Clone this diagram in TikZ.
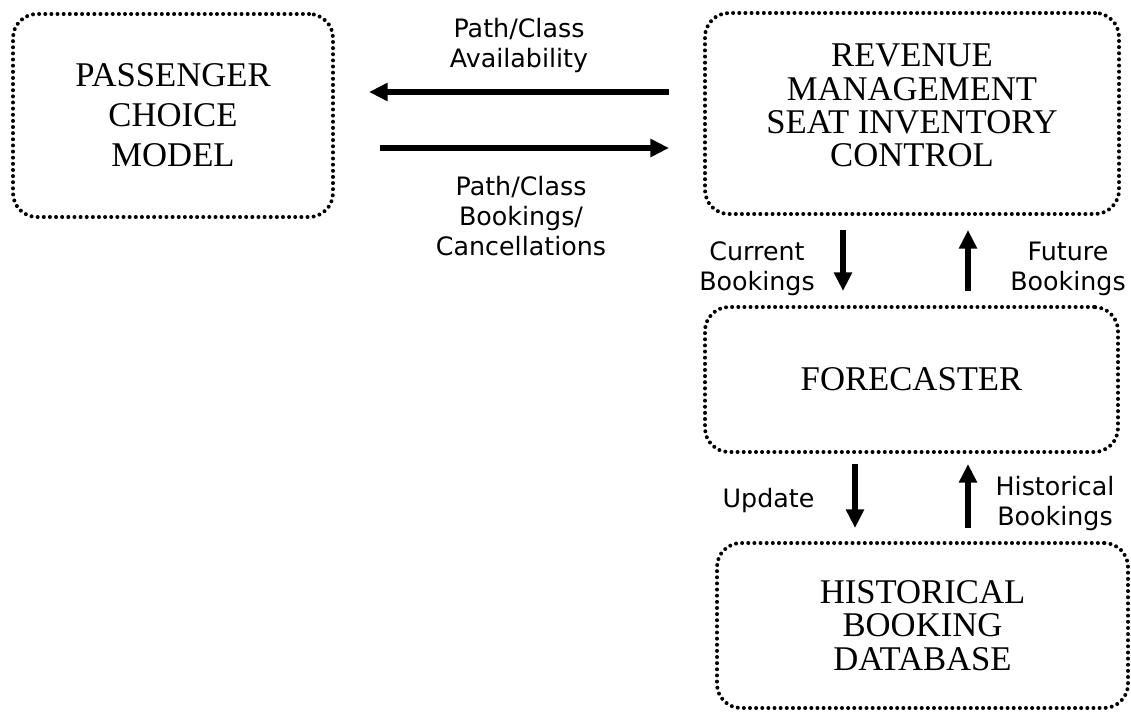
\documentclass[tikz,border=0pt]{standalone}
\usepackage{fontspec}
\setmainfont{Liberation Serif}
\newfontfamily\lblfont{DejaVu Sans}
\usetikzlibrary{arrows.meta}

\tikzset{every picture/.style={line width=0.75pt}}
\tikzset{
  blockbox/.style={draw, rounded corners=18pt, line width=3pt, line cap=round,
    dash pattern=on 0pt off 4.6pt, align=center,
    font=\fontsize{26}{25}\selectfont},
  flow/.style={line width=4pt, -{Triangle[length=14pt,width=13pt]}},
  lbl/.style={align=center, font=\lblfont\fontsize{19}{22.5}\selectfont}
}

\begin{document}
\begin{tikzpicture}[x=0.75pt,y=0.75pt,yscale=-1,xscale=1]
	%set diagram frame to the reference size
	\path[use as bounding box] (0,0) rectangle (1131,711);
	
	%Shape: Rounded Rect [id:pcm]
	\node[blockbox, minimum width=240pt, minimum height=152.25pt,
	  font=\fontsize{26}{30}\selectfont] (pcm) at (173,115.5) {PASSENGER\\CHOICE\\MODEL};
	%Shape: Rounded Rect [id:rm]
	\node[blockbox, minimum width=310.5pt, minimum height=150.75pt, text depth=12pt] (rm) at (912,113.5)
	  {REVENUE\\MANAGEMENT\\SEAT INVENTORY\\CONTROL};
	%Shape: Rounded Rect [id:fc]
	\node[blockbox, minimum width=309.75pt, minimum height=108.75pt] (fc) at (911.5,379.5) {FORECASTER};
	%Shape: Rounded Rect [id:hbd]
	\node[blockbox, minimum width=308.25pt, minimum height=123.75pt] (hbd) at (922.5,625.5)
	  {HISTORICAL\\BOOKING\\DATABASE};
	
	%rows and columns of the connectors
	\coordinate (availrow) at (0,92);
	\coordinate (bookrow) at (0,148);
	\coordinate (curcol) at (843,0);
	\coordinate (futcol) at (968,0);
	\coordinate (updcol) at (855,0);
	
	%Straight Lines [id:avail]
	\draw[flow, shorten <=25.5pt, shorten >=25.5pt] (rm.west |- availrow) -- (pcm.east |- availrow);
	%Straight Lines [id:book]
	\draw[flow, shorten <=33.75pt, shorten >=25.5pt] (pcm.east |- bookrow) -- (rm.west |- bookrow);
	%Straight Lines [id:cur]
	\draw[flow, shorten <=10.5pt, shorten >=10.5pt] (rm.south -| curcol) -- (fc.north -| curcol);
	%Straight Lines [id:fut]
	\draw[flow, shorten <=10.5pt, shorten >=10.5pt] (fc.north -| futcol) -- (rm.south -| futcol);
	%Straight Lines [id:upd]
	\draw[flow, shorten <=7.5pt, shorten >=9.75pt] (fc.south -| updcol) -- (hbd.north -| updcol);
	%Straight Lines [id:hist]
	\draw[flow, shorten <=9.75pt, shorten >=7.5pt] (hbd.north -| futcol) -- (fc.south -| futcol);
	
	% Text Node
	\node[lbl] (availlbl) at (519,46) {Path/Class\\Availability};
	% Text Node
	\node[lbl] (booklbl) at (521,216.5) {Path/Class\\Bookings/\\Cancellations};
	% Text Node
	\node[lbl] (curlbl) at (757,268.5) {Current\\Bookings};
	% Text Node
	\node[lbl] (futlbl) at (1068,268.5) {Future\\Bookings};
	% Text Node
	\node[lbl] (updlbl) at (768.5,500.5) {Update};
	% Text Node
	\node[lbl] (histlbl) at (1055,503.5) {Historical\\Bookings};
	
\end{tikzpicture}
\end{document}
